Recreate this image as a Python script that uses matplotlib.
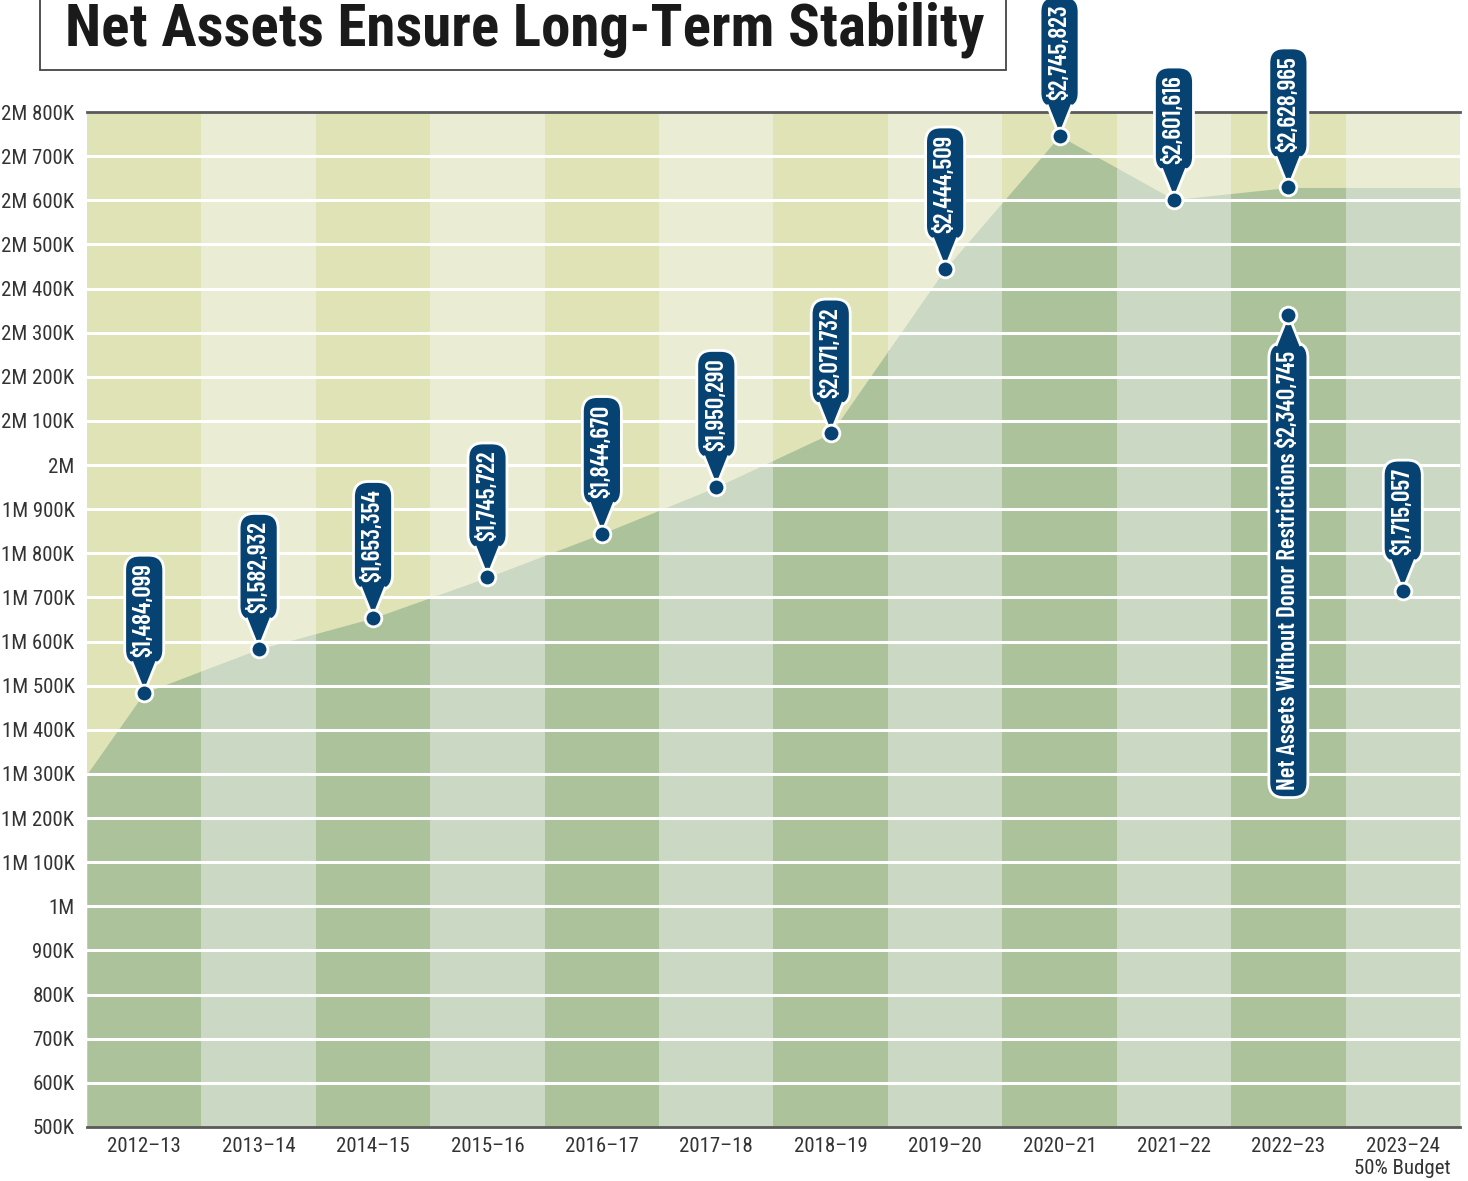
import matplotlib
matplotlib.use("Agg")
import matplotlib.pyplot as plt
import matplotlib.transforms as mtrans
from matplotlib.patches import Rectangle, PathPatch
from matplotlib.path import Path
from matplotlib.ticker import FuncFormatter, MultipleLocator

# ---- data -------------------------------------------------------------
years = ['2012–13', '2013–14', '2014–15', '2015–16', '2016–17', '2017–18',
         '2018–19', '2019–20', '2020–21', '2021–22', '2022–23',
         '2023–24\n50% Budget']
net_assets = [1484099, 1582932, 1653354, 1745722, 1844670, 1950290,
              2071732, 2444509, 2745823, 2601616, 2628965, 1715057]
area_start = 1300000          # value where the shaded area meets the left edge
n_actual = 11                 # years that are part of the shaded area
without_donor_year = '2022–23'
without_donor = 2340745

NAVY = '#074372'
BAND_DARK = '#e0e3b6'
BAND_LIGHT = '#eaedd3'
AREA_DARK = '#abc29b'
AREA_LIGHT = '#cbd8c3'
TXT = '#333333'
FONT = ['Roboto Condensed', 'IBM Plex Sans Condensed', 'DejaVu Sans']
LABEL_FONT = ['Barlow Condensed', 'IBM Plex Sans Condensed', 'DejaVu Sans']

plt.rcParams['font.family'] = FONT

W, H = 1468, 1181
fig = plt.figure(figsize=(W / 100, H / 100), dpi=100)
ax = fig.add_axes((87 / W, 1 - 1127 / H, (1460 - 87) / W, (1127 - 112) / H))

n = len(years)
ymin, ymax = 500000, 2800000
ax.set_xlim(-0.5, n - 0.5)
ax.set_ylim(ymin, ymax)

# background bands
for i in range(n):
    ax.add_patch(Rectangle((i - 0.5, ymin), 1, ymax - ymin,
                           fc=BAND_DARK if i % 2 == 0 else BAND_LIGHT,
                           ec='none', zorder=0))

# shaded area, coloured per column
area_x = [-0.5] + list(range(n_actual)) + [n - 0.5]
area_y = [area_start] + net_assets[:n_actual] + [net_assets[n_actual - 1]]
for i in range(n):
    poly = ax.fill_between(area_x, ymin, area_y,
                           color=AREA_DARK if i % 2 == 0 else AREA_LIGHT,
                           lw=0, zorder=1)
    clip = Rectangle((i - 0.5, ymin), 1, ymax - ymin, transform=ax.transData)
    poly.set_clip_path(clip)

# grid
for v in range(ymin + 100000, ymax, 100000):
    ax.axhline(v, color='white', lw=2.2, zorder=2)

for s in ['left', 'right']:
    ax.spines[s].set_visible(False)
for s in ['top', 'bottom']:
    ax.spines[s].set_color('#5a5a5a')
    ax.spines[s].set_linewidth(2)
    ax.spines[s].set_zorder(3)


def yfmt(v, pos):
    v = int(round(v))
    m, k = divmod(v, 1000000)
    k //= 1000
    parts = []
    if m:
        parts.append(f'{m}M')
    if k:
        parts.append(f'{k}K')
    return ' '.join(parts)


ax.yaxis.set_major_locator(MultipleLocator(100000))
ax.yaxis.set_major_formatter(FuncFormatter(yfmt))
ax.set_xticks(range(n))
ax.set_xticklabels(years, linespacing=1.25)
ax.tick_params(axis='y', length=0, pad=9, labelsize=15, labelcolor=TXT)
ax.tick_params(axis='x', length=0, pad=7, labelsize=15, labelcolor=TXT)

# callouts
FS = 18
PAD = 0.32
GAP = 20  # points between marker centre and bubble edge


def callout(x, y, text, up=True):
    d = 1 if up else -1
    pad_pt = PAD * FS
    ax.annotate(text, xy=(x, y), xytext=(0, d * (GAP + pad_pt)),
                textcoords='offset points', rotation=90, ha='center',
                va='bottom' if up else 'top', color='white', fontsize=FS,
                fontweight=600, family=LABEL_FONT, zorder=6,
                annotation_clip=False,
                bbox=dict(boxstyle=f'round,pad={PAD},rounding_size=0.6',
                          fc=NAVY, ec='white', lw=2))
    trans = (mtrans.Affine2D().scale(1 / 72) + fig.dpi_scale_trans
             + mtrans.ScaledTranslation(x, y, ax.transData))
    hw = 9
    base = GAP + 2.5
    verts = [(-hw, d * base), (0, 0), (hw, d * base)]
    tri = PathPatch(Path(verts, [Path.MOVETO, Path.LINETO, Path.LINETO]),
                    fc=NAVY, ec='white', lw=2, transform=trans,
                    zorder=6.5, clip_on=False)
    ax.add_patch(tri)
    ax.plot([x], [y], 'o', ms=12, mfc=NAVY, mec='white', mew=2,
            zorder=7, clip_on=False)


for i, v in enumerate(net_assets):
    callout(i, v, f'${v:,}')

callout(years.index(without_donor_year), without_donor,
        f'Net Assets Without Donor Restrictions ${without_donor:,}', up=False)

# title box
fig.patches.append(Rectangle((40 / W, 1 - 70 / H), (1006 - 40) / W, 80 / H,
                             transform=fig.transFigure, fc='white',
                             ec='#444444', lw=1.3))
fig.text(525 / W, 1 - 45 / H, 'Net Assets Ensure Long-Term Stability',
         ha='center', va='baseline', fontsize=42.5, fontweight='bold',
         color='#1a1a1a', family=FONT)

fig.savefig('out.png', dpi=100)
